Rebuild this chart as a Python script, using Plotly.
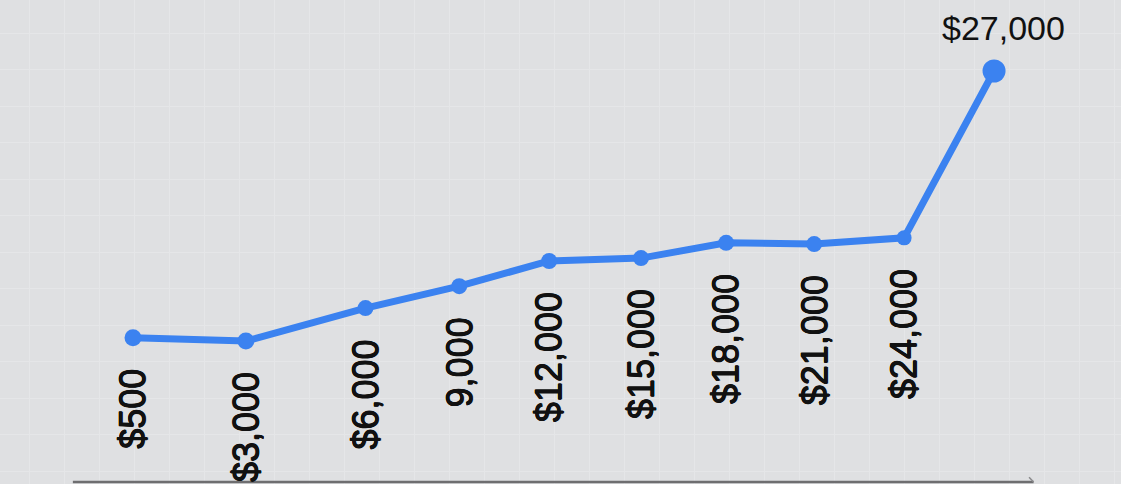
import plotly.graph_objects as go

# ---- data ----
labels = ["$500", "$3,000", "$6,000", "9,000", "$12,000", "$15,000",
          "$18,000", "$21,000", "$24,000", "$27,000"]
x_pos = [0.0, 1.18, 2.43, 3.41, 4.35, 5.31, 6.20, 7.12, 8.06, 9.00]
values = [35.4, 34.6, 42.6, 47.9, 54.0, 54.7, 58.4, 58.1, 59.6, 100.0]

BLUE = "#3b82f0"
BG = "#dfe0e2"
GRID = "#e5e6e8"
FONT = "Liberation Sans"
THICK = "0.45px 0 0 #111111, -0.45px 0 0 #111111, 0 0.45px 0 #111111, 0 -0.45px 0 #111111"

fig = go.Figure()
fig.add_trace(go.Scatter(
    x=x_pos, y=values, mode="lines+markers",
    line=dict(color=BLUE, width=7),
    marker=dict(color=BLUE, size=[17, 17, 16, 16, 16, 16, 16, 16, 15, 23],
                line=dict(width=0), opacity=1),
    hoverinfo="skip", showlegend=False,
))

annotations = []
for xv, yv, lab in zip(x_pos[:-1], values[:-1], labels[:-1]):
    annotations.append(dict(
        x=xv, y=yv, xref="x", yref="y", text=lab, showarrow=False,
        textangle=-90, xanchor="center", yanchor="top", yshift=-29,
        font=dict(family=FONT, size=36, color="#111111", shadow=THICK),
    ))
annotations.append(dict(
    x=x_pos[-1], y=values[-1], xref="x", yref="y", text=labels[-1],
    showarrow=False, xanchor="center", yanchor="bottom", yshift=22, xshift=9,
    font=dict(family=FONT, size=34, color="#111111"),
))

fig.update_layout(
    width=1121, height=484,
    margin=dict(l=0, r=0, t=0, b=0),
    paper_bgcolor=BG, plot_bgcolor=BG,
    xaxis=dict(range=[-1.39, 10.327], showticklabels=False, zeroline=False,
               showgrid=True, gridcolor=GRID, gridwidth=1,
               tick0=-1.077, dtick=0.3658, showline=False, ticks=""),
    yaxis=dict(range=[0, 117.19], showticklabels=False, zeroline=False,
               showgrid=True, gridcolor=GRID, gridwidth=1,
               tick0=3.12, dtick=8.84, showline=False, ticks=""),
    annotations=annotations,
    shapes=[
        dict(type="line", xref="paper", yref="paper", x0=0.065, x1=0.922,
             y0=0.004, y1=0.004, line=dict(color="#6e6e70", width=2.5)),
        dict(type="line", xref="paper", yref="paper", x0=0.922, x1=0.918,
             y0=0.004, y1=0.014, line=dict(color="#8a8a8c", width=1.5)),
    ],
)

fig.write_html(
    "out.html",
    config={"displayModeBar": False},
    post_script="document.body.style.margin='0';document.body.style.background='%s';" % BG,
)
